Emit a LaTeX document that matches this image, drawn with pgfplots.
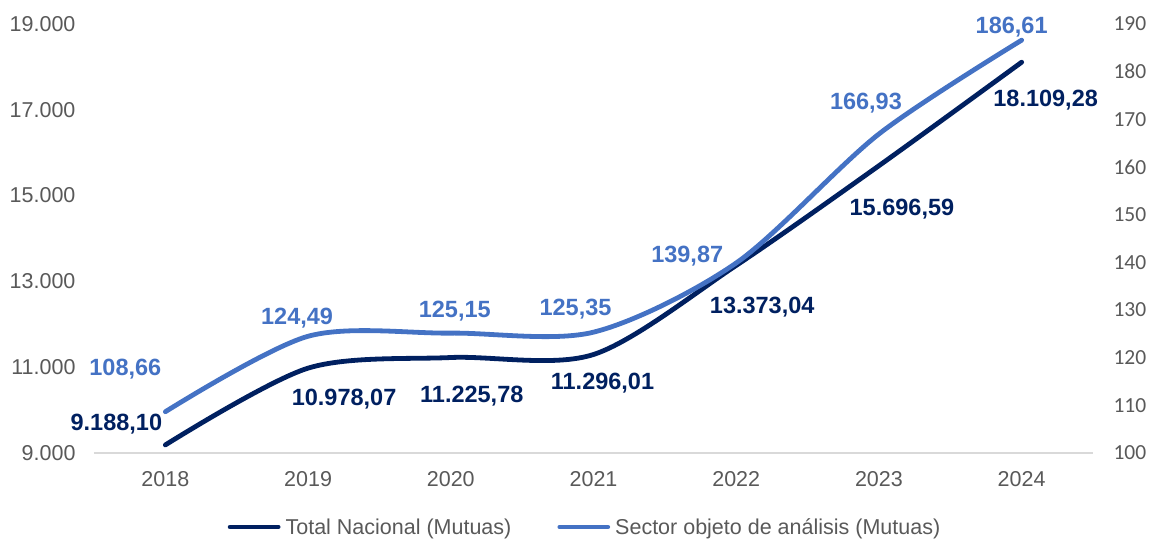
\documentclass[border=0pt]{standalone}
\usepackage{pgfplots}
\usepackage{pgfplotstable}
\pgfplotsset{compat=1.18}
\usepackage{fontspec}
\setmainfont{Liberation Sans}
\newfontfamily\calibri{Carlito}
\definecolor{navy}{HTML}{002060}
\definecolor{lblue}{HTML}{4472C4}
\definecolor{tickgray}{HTML}{595959}
\definecolor{axgray}{HTML}{D9D9D9}

\pgfplotstableread{
x y label dx dy
0 9188.10 9.188,10 -49 21
1 10978.07 10.978,07 36 -31
2 11225.78 11.225,78 21 -39
3 11296.01 11.296,01 9 -29
4 13373.04 13.373,04 26 -42
5 15696.59 15.696,59 23 -43
6 18109.28 18.109,28 24 -38
}\totaltable

\pgfplotstableread{
x y label dx dy
0 108.66 108,66 -40 43
1 124.49 124,49 -11 18
2 125.15 125,15 4 22
3 125.35 125,35 -18 23
4 139.87 139,87 -49 7
5 166.93 166,93 -13 31
6 186.61 186,61 -10 13
}\sectortable

\begin{document}
\begin{tikzpicture}
\useasboundingbox (-94pt,-85pt) rectangle (1061pt,453pt);
\pgfplotsset{
  common/.style={scale only axis, width=999pt, height=429pt, at={(0,0)}, anchor=south west,
    xmin=-0.5, xmax=6.5, clip=false,
    every tick label/.append style={font=\fontsize{21.5}{24}\selectfont, text=tickgray},
    major tick length=0pt,
    /pgf/number format/assume math mode=true},
  lbl/.style={nodes near coords, point meta=explicit symbolic,
    visualization depends on={\thisrow{dx} \as \lbldx},
    visualization depends on={\thisrow{dy} \as \lbldy},
    every node near coord/.append style={anchor=center, xshift=\lbldx pt, yshift=\lbldy pt,
      font=\bfseries\fontsize{23.5}{26}\selectfont, text=#1}},
}
\begin{axis}[common,
  ymin=9000, ymax=19000, ytick={9000,11000,13000,15000,17000,19000},
  axis x line*=bottom, axis y line*=left,
  y axis line style={draw=none},
  x axis line style={draw=axgray, line width=1.3pt, -},
  xtick={0,...,6}, xticklabels={2018,2019,2020,2021,2022,2023,2024},
  xticklabel style={yshift=-15pt},
  scaled y ticks=false,
  yticklabel style={/pgf/number format/1000 sep={.}, xshift=-15pt},
]
\addplot[navy, line width=4.8pt, smooth, tension=0.5, line cap=round, lbl=navy]
  table[x=x, y=y, meta=label]{\totaltable};
\end{axis}
\begin{axis}[common,
  ymin=100, ymax=190, ytick={100,110,...,190},
  axis y line*=right, axis x line=none,
  y axis line style={draw=none},
  yticklabel style={font=\calibri\fontsize{21.5}{24}\selectfont, xshift=17pt},
  legend style={at={(0.4915,0)}, anchor=center, yshift=-74pt, draw=none, fill=none,
    font=\fontsize{21.5}{24}\selectfont, text=tickgray,
    /tikz/every odd column/.append style={column sep=3pt},
    /tikz/every even column/.append style={column sep=44pt}},
  legend columns=2,
  legend image code/.code={\draw[#1, line cap=round] (0pt,0pt) -- (48pt,0pt);},
]
\addlegendimage{navy, line width=4.8pt}
\addlegendentry{Total Nacional (Mutuas)}
\addplot[lblue, line width=4.8pt, smooth, tension=0.5, line cap=round, lbl=lblue]
  table[x=x, y=y, meta=label]{\sectortable};
\addlegendentry{Sector objeto de análisis (Mutuas)}
\end{axis}
\end{tikzpicture}
\end{document}
